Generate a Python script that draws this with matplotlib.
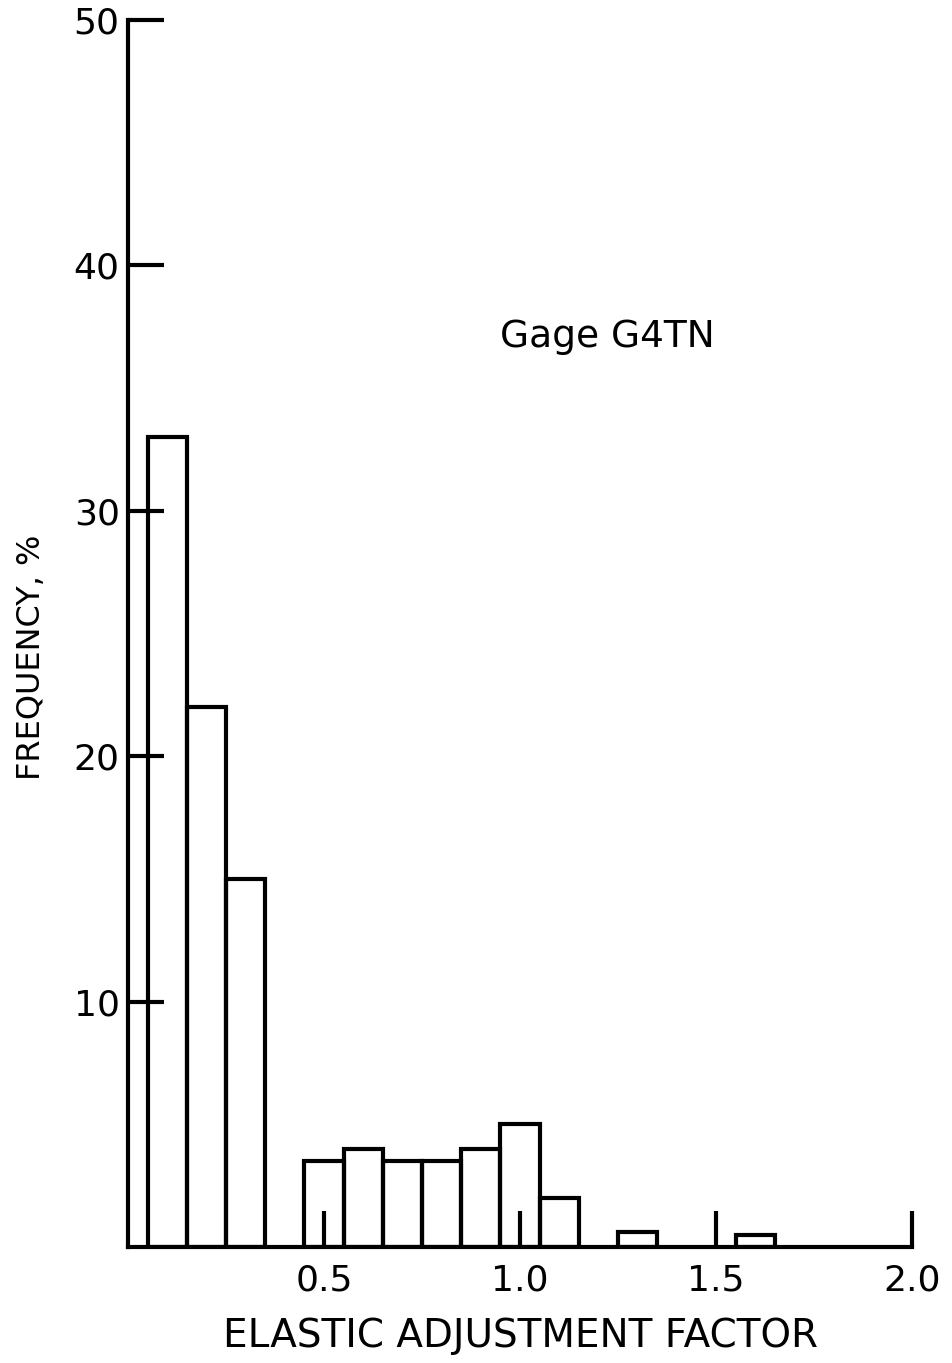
import matplotlib.pyplot as plt

# histogram of elastic adjustment factor, bin width 0.1
bin_left = [0.05, 0.15, 0.25, 0.45, 0.55, 0.65, 0.75, 0.85, 0.95, 1.05, 1.25, 1.55]
freq_pct = [33, 22, 15, 3.5, 4, 3.5, 3.5, 4, 5, 2, 0.6, 0.5]
bin_width = 0.1

x_ticks = [0.5, 1.0, 1.5, 2.0]
x_labels = ["0.5", "1.0", "1.5", "2.0"]
y_ticks = [10, 20, 30, 40, 50]
y_labels = ["10", "20", "30", "40", "50"]

fig = plt.figure(figsize=(9.52, 13.63), dpi=100)
ax = fig.add_axes([0.1345, 0.0851, 0.8235, 0.9002])

ax.bar(bin_left, freq_pct, width=bin_width, align='edge', fill=False,
       edgecolor='black', linewidth=3, joinstyle='miter')

ax.set_xlim(0, 2.0)
ax.set_ylim(0, 50)
ax.spines['top'].set_visible(False)
ax.spines['right'].set_visible(False)
for s in ('left', 'bottom'):
    ax.spines[s].set_linewidth(3)

ax.set_xticks(x_ticks)
ax.set_xticklabels(x_labels)
ax.set_yticks(y_ticks)
ax.set_yticklabels(y_labels)
ax.tick_params(axis='both', direction='in', length=26, width=3, labelsize=26)
ax.tick_params(axis='x', pad=12)
ax.tick_params(axis='y', pad=6)

ax.set_xlabel("ELASTIC ADJUSTMENT FACTOR", fontsize=28, labelpad=14)
ax.set_ylabel("FREQUENCY, %", fontsize=23)
ax.yaxis.set_label_coords(-0.103, 0.481)

ax.text(1.223, 37.1, "Gage G4TN", fontsize=27, ha='center', va='center')

fig.savefig("out.png", dpi=100)
